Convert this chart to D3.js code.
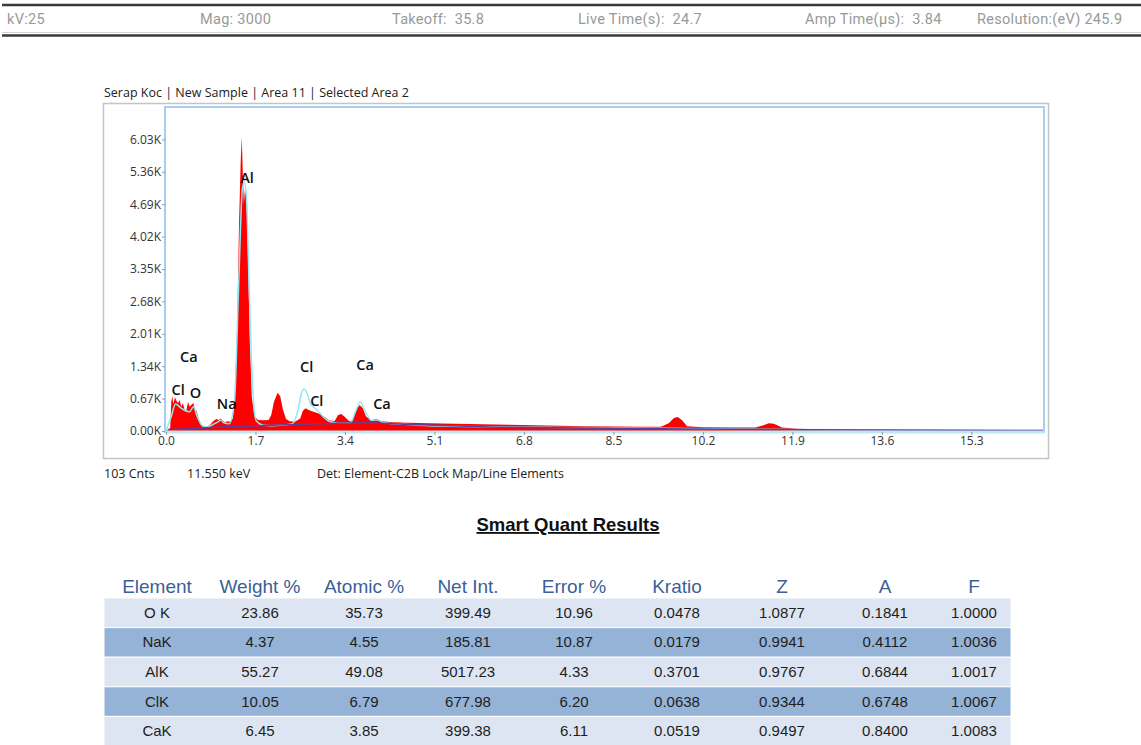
<!DOCTYPE html>
<html>
<head>
<meta charset="utf-8">
<script src="https://cdn.jsdelivr.net/npm/d3@7"></script>
<style>
  body { margin: 0; background: #fff; }
  svg { display: block; }
</style>
</head>
<body>
<script>

// header info
var headerLabels = ["kV:25", "Mag: 3000", "Takeoff:  35.8", "Live Time(s):  24.7", "Amp Time(\u00b5s):  3.84", "Resolution:(eV) 245.9"];

// spectrum (keV, counts)
var specKeV = [0.00, 0.08, 0.10, 0.12, 0.14, 0.17, 0.20, 0.23, 0.26, 0.29, 0.32, 0.35, 0.38, 0.42, 0.45, 0.48, 0.52, 0.55, 0.58, 0.62, 0.66, 0.70, 0.76, 0.82, 0.88, 0.92, 0.96, 1.00, 1.04, 1.08, 1.12, 1.17, 1.22, 1.27, 1.31, 1.35, 1.39, 1.42, 1.44, 1.46, 1.48, 1.50, 1.53, 1.56, 1.59, 1.63, 1.68, 1.75, 1.85, 1.95, 2.00, 2.05, 2.12, 2.17, 2.22, 2.28, 2.35, 2.45, 2.55, 2.60, 2.65, 2.72, 2.80, 2.90, 3.00, 3.10, 3.20, 3.27, 3.33, 3.40, 3.48, 3.55, 3.62, 3.68, 3.74, 3.80, 3.90, 4.00, 4.10, 4.30, 4.60, 5.00, 5.50, 6.00, 6.50, 7.00, 7.50, 8.00, 8.50, 9.00, 9.40, 9.55, 9.65, 9.72, 9.80, 9.90, 10.20, 10.80, 11.20, 11.35, 11.45, 11.55, 11.70, 12.00, 12.50, 13.00, 14.00, 15.00, 16.00, 16.68];
var specCounts = [0, 60, 600, 720, 560, 700, 620, 580, 640, 500, 580, 450, 400, 600, 500, 540, 580, 440, 420, 260, 140, 110, 100, 110, 180, 220, 250, 230, 260, 210, 180, 200, 190, 260, 700, 2100, 4400, 5600, 6080, 5300, 4700, 5000, 4800, 3500, 1900, 700, 300, 230, 220, 230, 330, 600, 790, 720, 450, 250, 200, 190, 260, 420, 470, 430, 400, 360, 300, 220, 200, 330, 350, 290, 200, 220, 450, 540, 470, 300, 220, 250, 200, 180, 170, 160, 150, 140, 130, 120, 110, 100, 95, 90, 90, 160, 270, 290, 230, 100, 80, 70, 70, 120, 160, 150, 70, 45, 30, 20, 12, 8, 5, 4];

// fitted line (cyan)
var fitKeV = [0.00, 0.10, 0.18, 0.28, 0.35, 0.45, 0.52, 0.60, 0.70, 0.80, 0.90, 1.00, 1.04, 1.10, 1.20, 1.30, 1.38, 1.45, 1.49, 1.53, 1.58, 1.65, 1.72, 1.85, 2.00, 2.20, 2.40, 2.50, 2.58, 2.62, 2.68, 2.75, 2.82, 2.90, 3.00, 3.10, 3.30, 3.50, 3.60, 3.69, 3.78, 3.90, 4.01, 4.15, 4.50, 5.00, 8.00, 12.00, 16.68];
var fitCounts = [0, 300, 560, 480, 430, 400, 500, 280, 100, 90, 140, 200, 230, 170, 150, 600, 3000, 5000, 5150, 4800, 3000, 800, 200, 120, 110, 120, 150, 400, 800, 870, 780, 550, 480, 400, 280, 200, 160, 170, 400, 600, 420, 220, 230, 170, 140, 110, 70, 30, 10];

// background line (purple)
var bgKeV = [0.05, 0.50, 1.00, 2.00, 3.00, 3.70, 4.50, 6.00, 8.00, 10.00, 12.00, 16.68];
var bgCounts = [30, 50, 80, 120, 150, 170, 140, 90, 60, 40, 25, 10];

// peak labels
var peakNames = ["Al", "Ca", "Cl", "O", "Na", "Cl", "Cl", "Ca", "Ca"];
var peakKeV = [1.486, 0.341, 0.182, 0.525, 1.041, 2.622, 2.815, 3.691, 4.012];
var peakLabelCounts = [5130, 1430, 745, 680, 455, 1220, 515, 1260, 455];

// axes
var yTickValues = [0, 670, 1340, 2010, 2680, 3350, 4020, 4690, 5360, 6030];
var yTickLabels = ["0.00K", "0.67K", "1.34K", "2.01K", "2.68K", "3.35K", "4.02K", "4.69K", "5.36K", "6.03K"];
var xTickValues = [0, 1.7, 3.4, 5.1, 6.8, 8.5, 10.2, 11.9, 13.6, 15.3];
var xTickLabels = ["0.0", "1.7", "3.4", "5.1", "6.8", "8.5", "10.2", "11.9", "13.6", "15.3"];

var footerLabels = ["103 Cnts", "11.550 keV", "Det: Element-C2B Lock Map/Line Elements"];

// quant table
var columns = ["Element", "Weight %", "Atomic %", "Net Int.", "Error %", "Kratio", "Z", "A", "F"];
var elements = ["O K", "NaK", "AlK", "ClK", "CaK"];
var weightPct = ["23.86", "4.37", "55.27", "10.05", "6.45"];
var atomicPct = ["35.73", "4.55", "49.08", "6.79", "3.85"];
var netInt = ["399.49", "185.81", "5017.23", "677.98", "399.38"];
var errorPct = ["10.96", "10.87", "4.33", "6.20", "6.11"];
var kratio = ["0.0478", "0.0179", "0.3701", "0.0638", "0.0519"];
var zFactor = ["1.0877", "0.9941", "0.9767", "0.9344", "0.9497"];
var aFactor = ["0.1841", "0.4112", "0.6844", "0.6748", "0.8400"];
var fFactor = ["1.0000", "1.0036", "1.0017", "1.0067", "1.0083"];

var W = 1141, H = 745;
var svg = d3.select("body").append("svg").attr("width", W).attr("height", H);

// ---- header bar
var headerX = [7, 200, 392, 578, 805, 977];
svg.append("line").attr("x1", 2).attr("x2", W).attr("y1", 5).attr("y2", 5)
   .attr("stroke", "#3a3a3a").attr("stroke-width", 2.5);
svg.append("line").attr("x1", 2).attr("x2", W).attr("y1", 35.5).attr("y2", 35.5)
   .attr("stroke", "#3a3a3a").attr("stroke-width", 2.5);
svg.append("line").attr("x1", 2).attr("x2", W).attr("y1", 32.5).attr("y2", 32.5)
   .attr("stroke", "#d4d4d4").attr("stroke-width", 1);
svg.selectAll(".hdr").data(headerLabels).enter().append("text")
   .attr("class", "hdr")
   .attr("x", function(d, i){ return headerX[i]; })
   .attr("y", 24)
   .attr("font-family", "Roboto, sans-serif")
   .attr("font-size", "14.5px")
   .attr("letter-spacing", "0.3px")
   .attr("fill", "#999")
   .style("white-space", "pre")
   .text(function(d){ return d; });

// ---- spectrum panel
var chartFont = "'Open Sans', 'Noto Sans', sans-serif";

svg.append("text").attr("x", 104).attr("y", 97)
   .attr("font-family", chartFont).attr("font-size", "12.5px").attr("fill", "#222")
   .text("Serap Koc | New Sample | Area 11 | Selected Area 2");

svg.append("rect").attr("x", 103.5).attr("y", 103.5).attr("width", 945).attr("height", 355)
   .attr("fill", "#fff").attr("stroke", "#c4c4c4").attr("stroke-width", 1.5);

var xScale = d3.scaleLinear().domain([0, 16.68]).range([166, 1044]);
var yScale = d3.scaleLinear().domain([0, 6700]).range([431, 107]);

svg.append("clipPath").attr("id", "plotclip")
   .append("rect").attr("x", 166).attr("y", 107).attr("width", 878).attr("height", 325);

var plotG = svg.append("g").attr("clip-path", "url(#plotclip)");

var spectrum = specKeV.map(function(k, i){ return [k, specCounts[i]]; });
var fit = fitKeV.map(function(k, i){ return [k, fitCounts[i]]; });
var bg = bgKeV.map(function(k, i){ return [k, bgCounts[i]]; });

var area = d3.area()
   .x(function(d){ return xScale(d[0]); })
   .y0(yScale(0))
   .y1(function(d){ return yScale(d[1]); });

var line = d3.line()
   .x(function(d){ return xScale(d[0]); })
   .y(function(d){ return yScale(d[1]); })
   .curve(d3.curveMonotoneX);

plotG.append("path").datum(spectrum).attr("d", area).attr("fill", "#ff0000");
plotG.append("path").datum(fit).attr("d", line)
   .attr("fill", "none").attr("stroke", "#8fe8f2").attr("stroke-width", 1.5);
plotG.append("path").datum(bg).attr("d", line)
   .attr("fill", "none").attr("stroke", "#5b3fa0").attr("stroke-width", 1.5);

// plot frame
svg.append("rect").attr("x", 165).attr("y", 107).attr("width", 879).attr("height", 325)
   .attr("fill", "none").attr("stroke", "#a9cdee").attr("stroke-width", 2);
svg.append("line").attr("x1", 166).attr("x2", 1044).attr("y1", 432).attr("y2", 432)
   .attr("stroke", "#bfe6f5").attr("stroke-width", 3);

// peak labels
svg.selectAll(".peak").data(peakNames).enter().append("text")
   .attr("class", "peak")
   .attr("x", function(d, i){ return xScale(peakKeV[i]) - 4; })
   .attr("y", function(d, i){ return yScale(peakLabelCounts[i]); })
   .attr("font-family", chartFont).attr("font-size", "14.5px").attr("font-weight", 600)
   .attr("fill", "#111")
   .text(function(d){ return d; });

// axes
var yAxis = d3.axisLeft(yScale).tickValues(yTickValues).tickSize(3).tickPadding(1)
   .tickFormat(function(d, i){ return yTickLabels[i]; });
var xAxis = d3.axisBottom(xScale).tickValues(xTickValues).tickSize(3).tickPadding(1)
   .tickFormat(function(d, i){ return xTickLabels[i]; });

var gy = svg.append("g").attr("transform", "translate(165,0)").call(yAxis);
var gx = svg.append("g").attr("transform", "translate(0,432)").call(xAxis);
[gx, gy].forEach(function(g){
  g.select(".domain").remove();
  g.selectAll("line").attr("stroke", "#9a9a9a");
  g.selectAll("text").attr("font-family", chartFont).attr("font-size", "12px").attr("fill", "#333");
});

// footer
var footerX = [104, 187, 317];
svg.selectAll(".foot").data(footerLabels).enter().append("text")
   .attr("class", "foot")
   .attr("x", function(d, i){ return footerX[i]; })
   .attr("y", 478)
   .attr("font-family", chartFont).attr("font-size", "12.5px").attr("fill", "#222")
   .text(function(d){ return d; });

// ---- quant table
var tableFont = "'Liberation Sans', Arial, sans-serif";

svg.append("text").attr("x", 568).attr("y", 531).attr("text-anchor", "middle")
   .attr("font-family", tableFont).attr("font-size", "18.5px").attr("font-weight", "bold")
   .attr("fill", "#111").attr("text-decoration", "underline")
   .text("Smart Quant Results");

var colX = [157, 260, 364, 468, 574, 677, 782, 885, 974];

svg.selectAll(".colhead").data(columns).enter().append("text")
   .attr("class", "colhead")
   .attr("x", function(d, i){ return colX[i]; })
   .attr("y", 593)
   .attr("text-anchor", "middle")
   .attr("font-family", tableFont).attr("font-size", "19px")
   .attr("fill", "#3b5f98")
   .text(function(d){ return d; });

var rowScale = d3.scaleBand().domain(elements).range([598, 746]);

var rows = elements.map(function(e, i){
  return [e, weightPct[i], atomicPct[i], netInt[i], errorPct[i], kratio[i], zFactor[i], aFactor[i], fFactor[i]];
});

var rowG = svg.selectAll(".row").data(rows).enter().append("g")
   .attr("class", "row")
   .attr("transform", function(d){ return "translate(0," + rowScale(d[0]) + ")"; });

rowG.append("rect").attr("x", 104).attr("width", 907).attr("height", rowScale.bandwidth())
   .attr("fill", function(d, i){ return i % 2 ? "#95b3d7" : "#dce5f1"; })
   .attr("stroke", "#fff").attr("stroke-width", 1);

rowG.selectAll("text").data(function(d){ return d; }).enter().append("text")
   .attr("x", function(d, i){ return colX[i]; })
   .attr("y", rowScale.bandwidth() / 2 + 5)
   .attr("text-anchor", "middle")
   .attr("font-family", tableFont).attr("font-size", "15px")
   .attr("fill", "#1e1e1e")
   .text(function(d){ return d; });

</script>
</body>
</html>
